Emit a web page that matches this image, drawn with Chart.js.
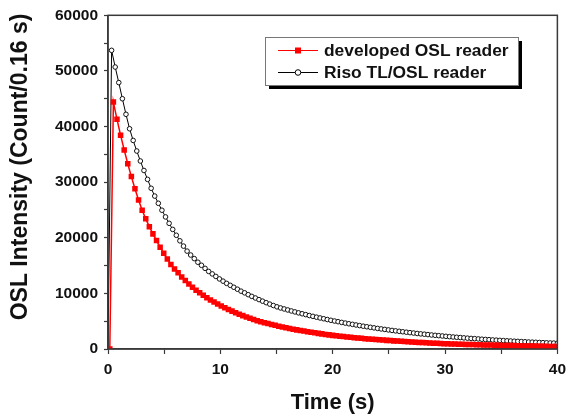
<!DOCTYPE html>
<html>
<head>
<meta charset="utf-8">
<script src="https://cdn.jsdelivr.net/npm/chart.js@4"></script>
<style>
  html, body { margin: 0; padding: 0; background: #fff; }
  #wrap { width: 572px; height: 419px; }
</style>
</head>
<body>
<div id="wrap"><canvas id="oslChart" width="572" height="419"></canvas></div>
<script>
// channel times (s): one marker every 0.32 s
const timeDeveloped = [
  0.16, 0.48, 0.8, 1.12, 1.44, 1.76, 2.08, 2.4, 2.72, 3.04, 3.36, 3.68, 4, 4.32, 4.64, 4.96, 5.28, 5.6, 5.92, 6.24,
  6.56, 6.88, 7.2, 7.52, 7.84, 8.16, 8.48, 8.8, 9.12, 9.44, 9.76, 10.08, 10.4, 10.72, 11.04, 11.36, 11.68, 12, 12.32, 12.64,
  12.96, 13.28, 13.6, 13.92, 14.24, 14.56, 14.88, 15.2, 15.52, 15.84, 16.16, 16.48, 16.8, 17.12, 17.44, 17.76, 18.08, 18.4, 18.72, 19.04,
  19.36, 19.68, 20, 20.32, 20.64, 20.96, 21.28, 21.6, 21.92, 22.24, 22.56, 22.88, 23.2, 23.52, 23.84, 24.16, 24.48, 24.8, 25.12, 25.44,
  25.76, 26.08, 26.4, 26.72, 27.04, 27.36, 27.68, 28, 28.32, 28.64, 28.96, 29.28, 29.6, 29.92, 30.24, 30.56, 30.88, 31.2, 31.52, 31.84,
  32.16, 32.48, 32.8, 33.12, 33.44, 33.76, 34.08, 34.4, 34.72, 35.04, 35.36, 35.68, 36, 36.32, 36.64, 36.96, 37.28, 37.6, 37.92, 38.24,
  38.56, 38.88, 39.2, 39.52, 39.84,
];
const timeRiso = [
  0, 0.32, 0.64, 0.96, 1.28, 1.6, 1.92, 2.24, 2.56, 2.88, 3.2, 3.52, 3.84, 4.16, 4.48, 4.8, 5.12, 5.44, 5.76, 6.08,
  6.4, 6.72, 7.04, 7.36, 7.68, 8, 8.32, 8.64, 8.96, 9.28, 9.6, 9.92, 10.24, 10.56, 10.88, 11.2, 11.52, 11.84, 12.16, 12.48,
  12.8, 13.12, 13.44, 13.76, 14.08, 14.4, 14.72, 15.04, 15.36, 15.68, 16, 16.32, 16.64, 16.96, 17.28, 17.6, 17.92, 18.24, 18.56, 18.88,
  19.2, 19.52, 19.84, 20.16, 20.48, 20.8, 21.12, 21.44, 21.76, 22.08, 22.4, 22.72, 23.04, 23.36, 23.68, 24, 24.32, 24.64, 24.96, 25.28,
  25.6, 25.92, 26.24, 26.56, 26.88, 27.2, 27.52, 27.84, 28.16, 28.48, 28.8, 29.12, 29.44, 29.76, 30.08, 30.4, 30.72, 31.04, 31.36, 31.68,
  32, 32.32, 32.64, 32.96, 33.28, 33.6, 33.92, 34.24, 34.56, 34.88, 35.2, 35.52, 35.84, 36.16, 36.48, 36.8, 37.12, 37.44, 37.76, 38.08,
  38.4, 38.72, 39.04, 39.36, 39.68, 40,
];

// developed OSL reader (counts / 0.16 s)
const developedOSL = [
  0, 44400, 41300, 38450, 35800, 33300, 31000, 28800, 26800, 24950,
  23400, 22000, 20700, 19500, 18300, 17200, 16200, 15200, 14400, 13700,
  12950, 12300, 11700, 11100, 10550, 10100, 9650, 9230, 8830, 8450,
  8080, 7730, 7400, 7100, 6810, 6530, 6260, 6000, 5760, 5520,
  5290, 5100, 4920, 4740, 4580, 4410, 4260, 4110, 3960, 3820,
  3690, 3560, 3440, 3330, 3220, 3110, 3010, 2910, 2810, 2720,
  2620, 2540, 2450, 2380, 2310, 2240, 2170, 2100, 2040, 1980,
  1920, 1860, 1810, 1750, 1700, 1650, 1600, 1550, 1510, 1460,
  1420, 1380, 1330, 1290, 1260, 1220, 1180, 1150, 1110, 1080,
  1050, 1020, 990, 960, 940, 915, 890, 870, 850, 830,
  810, 790, 770, 750, 740, 720, 700, 680, 670, 650,
  640, 620, 610, 590, 580, 560, 550, 540, 520, 510,
  500, 490, 470, 460, 450,
];

// Riso TL/OSL reader (counts / 0.16 s)
const risoOSL = [
  0, 53700, 50700, 47900, 45000, 42200, 39600, 37500, 35600, 33800,
  32100, 30500, 28900, 27500, 26200, 24950, 23750, 22600, 21500, 20450,
  19450, 18500, 17600, 16900, 16250, 15600, 15050, 14500, 13950, 13500,
  13050, 12600, 12200, 11800, 11450, 11100, 10750, 10400, 10100, 9770,
  9460, 9170, 8880, 8600, 8330, 8070, 7820, 7580, 7380, 7200,
  7020, 6840, 6670, 6500, 6340, 6180, 6020, 5870, 5720, 5580,
  5440, 5300, 5160, 5030, 4910, 4780, 4660, 4540, 4430, 4320,
  4210, 4100, 4000, 3900, 3800, 3700, 3610, 3520, 3430, 3340,
  3260, 3180, 3100, 3020, 2940, 2870, 2790, 2720, 2660, 2590,
  2520, 2460, 2400, 2340, 2280, 2220, 2160, 2110, 2060, 2000,
  1950, 1900, 1860, 1810, 1760, 1720, 1680, 1630, 1590, 1550,
  1510, 1470, 1440, 1400, 1370, 1330, 1300, 1260, 1230, 1200,
  1170, 1140, 1110, 1080, 1060, 1030,
];

const seriesNames = ["developed OSL reader", "Riso TL/OSL reader"];
const xLabelStep = 10;
const yLabelStep = 10000;
const yTitle = "OSL Intensity (Count/0.16 s)";

const FONT = "'Liberation Sans', Arial, Helvetica, sans-serif";
const AXIS_COLOR = "#3a3a3a";

function toPoints(times, values) {
  return values.map((v, i) => ({ x: times[i], y: v }));
}

// box around the plot (top + right sides)
const frameBox = {
  id: "frameBox",
  afterDraw(chart) {
    const { ctx, chartArea } = chart;
    ctx.save();
    ctx.strokeStyle = AXIS_COLOR;
    ctx.lineWidth = 1.5;
    ctx.strokeRect(chartArea.left, chartArea.top, chartArea.right - chartArea.left, chartArea.bottom - chartArea.top);
    ctx.restore();
  },
};

// y title sits a bit above the axis middle in the original
const yAxisTitle = {
  id: "yAxisTitle",
  afterDraw(chart) {
    const { ctx } = chart;
    ctx.save();
    ctx.translate(27, 167);
    ctx.rotate(-Math.PI / 2);
    ctx.fillStyle = "#111";
    ctx.font = `bold 23px ${FONT}`;
    ctx.textAlign = "center";
    ctx.textBaseline = "alphabetic";
    ctx.fillText(yTitle, 0, 0);
    ctx.restore();
  },
};

// legend box with drop shadow, Origin style
const shadowLegend = {
  id: "shadowLegend",
  afterDraw(chart) {
    const { ctx } = chart;
    const box = { x: 265, y: 37, w: 253, h: 48 };
    ctx.save();
    ctx.fillStyle = "#000";
    ctx.fillRect(box.x + 4, box.y + 4, box.w, box.h);
    ctx.fillStyle = "#fff";
    ctx.fillRect(box.x, box.y, box.w, box.h);
    ctx.strokeStyle = "#777";
    ctx.lineWidth = 1;
    ctx.strokeRect(box.x + 0.5, box.y + 0.5, box.w, box.h);

    chart.data.datasets.forEach((ds, i) => {
      const y = box.y + 13.5 + i * 22;
      const x0 = box.x + 13;
      const x1 = box.x + 53;
      ctx.strokeStyle = ds.borderColor;
      ctx.lineWidth = 1.2;
      ctx.beginPath();
      ctx.moveTo(x0, y);
      ctx.lineTo(x1, y);
      ctx.stroke();
      const mx = (x0 + x1) / 2;
      if (ds.pointStyle === "rect") {
        ctx.fillStyle = ds.pointBackgroundColor;
        ctx.fillRect(mx - 3, y - 3, 6, 6);
      } else {
        ctx.fillStyle = "#fff";
        ctx.beginPath();
        ctx.arc(mx, y, 2.8, 0, Math.PI * 2);
        ctx.fill();
        ctx.lineWidth = 1;
        ctx.stroke();
      }
      ctx.fillStyle = "#111";
      ctx.font = `bold 17.4px ${FONT}`;
      ctx.textBaseline = "middle";
      ctx.fillText(ds.label, box.x + 59, y + 1);
    });
    ctx.restore();
  },
};

const ctx = document.getElementById("oslChart").getContext("2d");

const chart = new Chart(ctx, {
  type: "line",
  data: {
    datasets: [
      {
        label: seriesNames[0],
        data: toPoints(timeDeveloped, developedOSL),
        borderColor: "#ff0000",
        backgroundColor: "#ff0000",
        pointBackgroundColor: "#ff0000",
        pointBorderColor: "#ff0000",
        pointStyle: "rect",
        pointRadius: 3.9,
        pointBorderWidth: 0,
        borderWidth: 1.5,
        tension: 0,
      },
      {
        label: seriesNames[1],
        data: toPoints(timeRiso, risoOSL),
        borderColor: "#000000",
        backgroundColor: "#ffffff",
        pointBackgroundColor: "#ffffff",
        pointBorderColor: "#111111",
        pointStyle: "circle",
        pointRadius: (c) => (c.dataIndex === 0 ? 0 : 2.3),
        pointBorderWidth: 1,
        borderWidth: 1,
        tension: 0,
      },
    ],
  },
  options: {
    responsive: false,
    animation: false,
    devicePixelRatio: 1,
    layout: { padding: { left: 0, right: 10, top: 15, bottom: 0 } },
    plugins: {
      legend: { display: false },
      tooltip: { enabled: false },
    },
    scales: {
      x: {
        type: "linear",
        min: 0,
        max: 40,
        afterFit(scale) { scale.height = 70; },
        ticks: {
          stepSize: 5,
          autoSkip: false,
          maxRotation: 0,
          padding: 6,
          color: "#111",
          font: { family: FONT, size: 15.5, weight: "bold" },
          callback: (v) => (v % xLabelStep === 0 ? v : ""),
        },
        grid: { drawOnChartArea: false, tickLength: 5, color: AXIS_COLOR, tickWidth: 1.2 },
        border: { color: AXIS_COLOR, width: 1.5 },
        title: {
          display: true,
          text: "Time (s)",
          color: "#111",
          font: { family: FONT, size: 22, weight: "bold" },
          padding: { top: 0, bottom: 3 },
        },
      },
      y: {
        min: 0,
        max: 60000,
        afterFit(scale) { scale.width = 108; },
        ticks: {
          stepSize: 5000,
          autoSkip: false,
          padding: 6,
          color: "#111",
          font: { family: FONT, size: 15.5, weight: "bold" },
          callback: (v) => (v % yLabelStep === 0 ? v : ""),
        },
        grid: { drawOnChartArea: false, tickLength: 4, color: AXIS_COLOR, tickWidth: 1.2 },
        border: { color: AXIS_COLOR, width: 1.5 },
        title: { display: false },
      },
    },
  },
  plugins: [frameBox, yAxisTitle, shadowLegend],
});
</script>
</body>
</html>
